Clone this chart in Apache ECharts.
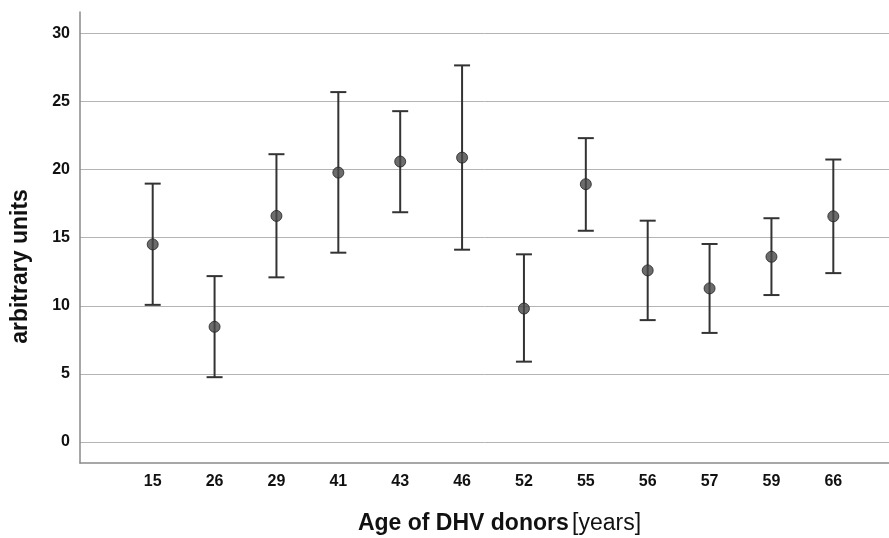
<!DOCTYPE html>
<html>
<head>
<meta charset="utf-8">
<script src="https://cdn.jsdelivr.net/npm/echarts@6/dist/echarts.min.js"></script>
<style>
  html, body { margin: 0; padding: 0; background: #fff; }
  #chart { width: 889px; height: 538px; }
</style>
</head>
<body>
<div id="chart"></div>
<script>
// donor ages (categories) and measured values
const ages = ['15', '26', '29', '41', '43', '46', '52', '55', '56', '57', '59', '66']
const means = [14.51, 8.46, 16.6, 19.78, 20.59, 20.88, 9.8, 18.93, 12.6, 11.28, 13.6, 16.57]
const lower = [10.07, 4.76, 12.09, 13.9, 16.87, 14.12, 5.9, 15.51, 8.95, 8.01, 10.79, 12.4]
const upper = [18.97, 12.18, 21.13, 25.69, 24.29, 27.65, 13.78, 22.31, 16.25, 14.54, 16.43, 20.74]
const yTicks = [0, 5, 10, 15, 20, 25, 30]

const idx = ages.map((a, i) => i)
const font = 'Liberation Sans, Arial, sans-serif'

const chart = echarts.init(document.getElementById('chart'))

const option = {
  backgroundColor: '#fff',
  animation: false,
  grid: {
    left: 80, right: 0, top: 12, bottom: 75,
    containLabel: false,
    outerBoundsMode: 'none'
  },
  xAxis: {
    type: 'value',
    min: -1.175,
    max: 11.9,
    name: '{b|Age of DHV donors} {r|[years]}',
    nameLocation: 'middle',
    nameGap: 49,
    nameTextStyle: {
      padding: [0, 0, 0, 30],
      rich: {
        b: { fontFamily: font, fontSize: 23, fontWeight: 'bold', color: '#111' },
        r: { fontFamily: font, fontSize: 23, color: '#111' }
      }
    },
    axisLine: { show: true, onZero: false, lineStyle: { color: '#8a8a8a', width: 1.5 } },
    axisTick: { show: false },
    splitLine: { show: false },
    axisLabel: {
      customValues: idx,
      margin: 11,
      fontFamily: font,
      fontSize: 16,
      fontWeight: 'bold',
      color: '#111'
    , formatter: v => ages[Math.round(v)]
    }
  },
  yAxis: {
    type: 'value',
    min: -1.54,
    max: 31.57,
    name: 'arbitrary units',
    nameLocation: 'middle',
    nameGap: 48,
    nameTextStyle: {
      fontFamily: font, fontSize: 23, fontWeight: 'bold', color: '#111',
      padding: [0, 58, 0, 0]
    },
    axisLine: { show: true, onZero: false, lineStyle: { color: '#8a8a8a', width: 1.5 } },
    axisTick: { show: false, customValues: yTicks },
    splitLine: { show: true, lineStyle: { color: '#b4b4b4', width: 1 } },
    axisLabel: {
      customValues: yTicks,
      margin: 10,
      fontFamily: font,
      fontSize: 16,
      fontWeight: 'bold',
      color: '#111'
    }
  },
  series: [
    {
      type: 'custom',
      name: 'range',
      data: idx.map(i => [i, lower[i], upper[i]]),
      renderItem: (params, api) => {
        const lo = api.coord([api.value(0), api.value(1)])
        const hi = api.coord([api.value(0), api.value(2)])
        const w = 8
        const style = { stroke: '#333', lineWidth: 2 }
        return {
          type: 'group',
          children: [
            { type: 'line', shape: { x1: lo[0], y1: lo[1], x2: hi[0], y2: hi[1] }, style },
            { type: 'line', shape: { x1: lo[0] - w, y1: lo[1], x2: lo[0] + w, y2: lo[1] }, style },
            { type: 'line', shape: { x1: hi[0] - w, y1: hi[1], x2: hi[0] + w, y2: hi[1] }, style }
          ]
        }
      },
      z: 2
    },
    {
      type: 'scatter',
      name: 'mean',
      data: idx.map(i => [i, means[i]]),
      symbol: 'circle',
      symbolSize: 11,
      itemStyle: { color: '#474747', borderColor: '#222', borderWidth: 1 },
      z: 3
    }
  ]
}

chart.setOption(option)
window.addEventListener('resize', () => chart.resize())
</script>
</body>
</html>
